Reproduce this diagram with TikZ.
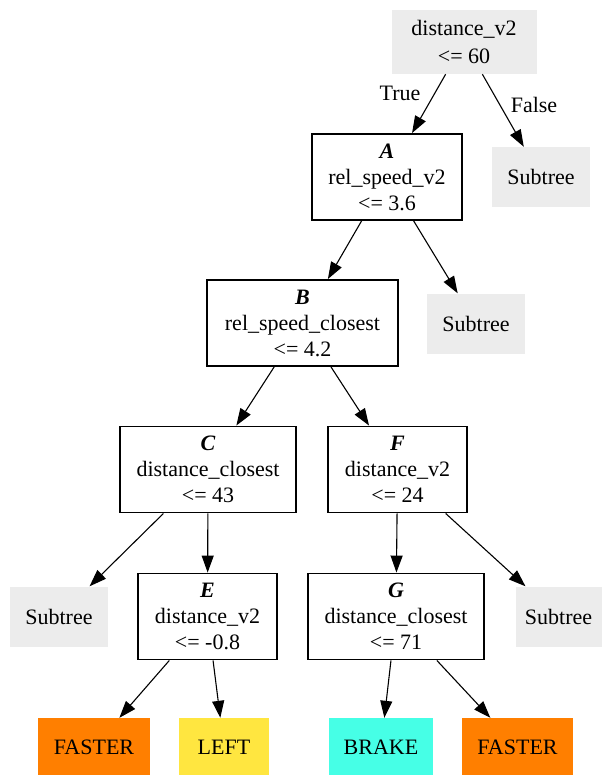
\documentclass[tikz,border=0pt]{standalone}
\usepackage{fontspec}
\setmainfont{Liberation Serif}
\usetikzlibrary{arrows.meta}
\definecolor{subgray}{RGB}{236,236,236}
\definecolor{leaforange}{RGB}{255,127,0}
\definecolor{leafyellow}{RGB}{255,230,64}
\definecolor{leafcyan}{RGB}{70,255,230}

\begin{document}
\begin{tikzpicture}[x=1pt, y=-1pt, >={Triangle[length=17pt,width=12pt]},
    every node/.style={font=\fontsize{22}{26}\selectfont, align=center, inner sep=0pt},
    splitbox/.style={draw, line width=1.9pt, fill=white, minimum height=86pt},
    subbox/.style={fill=subgray, minimum width=98pt, minimum height=60pt},
    leafbox/.style={fill=#1, minimum height=58pt},
    link/.style={->, line width=1.1pt}]
            \useasboundingbox (0,0) rectangle (603,775);

            % Wurzel
            \node[fill=subgray, minimum width=145pt, minimum height=64pt] (root) at (464,42) {distance\_v2\\[2pt]<= 60};
            \node[subbox] (sub0) at (541,177) {Subtree};

            % Entscheidungsknoten
            \node[splitbox, minimum width=150pt] (A) at (387,177) {\textbf{\textit{A}}\\rel\_speed\_v2\\<= 3.6};
            \node[splitbox, minimum width=191pt] (B) at (302.5,323) {\textbf{\textit{B}}\\rel\_speed\_closest\\<= 4.2};
            \node[subbox] (sub1) at (476,323.5) {Subtree};
            \node[splitbox, minimum width=176pt] (C) at (208,469.5) {\textbf{\textit{C}}\\distance\_closest\\<= 43};
            \node[splitbox, minimum width=139pt] (F) at (397.5,469.5) {\textbf{\textit{F}}\\distance\_v2\\<= 24};
            \node[subbox] (sub2) at (59,616.5) {Subtree};
            \node[splitbox, minimum width=139pt] (E) at (207.5,616.5) {\textbf{\textit{E}}\\distance\_v2\\<= -0.8};
            \node[splitbox, minimum width=176pt] (G) at (396,616.5) {\textbf{\textit{G}}\\distance\_closest\\<= 71};
            \node[subbox, minimum width=86pt] (sub3) at (558.5,616.5) {Subtree};

            % Blaetter
            \node[leafbox=leaforange, minimum width=112pt] (l1) at (94,747) {FASTER};
            \node[leafbox=leafyellow, minimum width=90pt] (l2) at (224,747) {LEFT};
            \node[leafbox=leafcyan, minimum width=104pt] (l3) at (381,747) {BRAKE};
            \node[leafbox=leaforange, minimum width=111pt] (l4) at (517.5,747) {FASTER};

            % Kanten
            \draw[link] (root) -- (A);
            \draw[link] (root) -- (sub0);
            \draw[link] (A) -- (B);
            \draw[link] (A) -- (sub1);
            \draw[link] (B) -- (C);
            \draw[link] (B) -- (F);
            \draw[link] (C) -- (sub2);
            \draw[link] (C) -- (E);
            \draw[link] (F) -- (G);
            \draw[link] (F) -- (sub3);
            \draw[link] (E) -- (l1);
            \draw[link] (E) -- (l2);
            \draw[link] (G) -- (l3);
            \draw[link] (G) -- (l4);

            % Beschriftung
            \node (tlab) at (400,93) {True};
            \node (flab) at (534,105) {False};
        \end{tikzpicture}
\end{document}
